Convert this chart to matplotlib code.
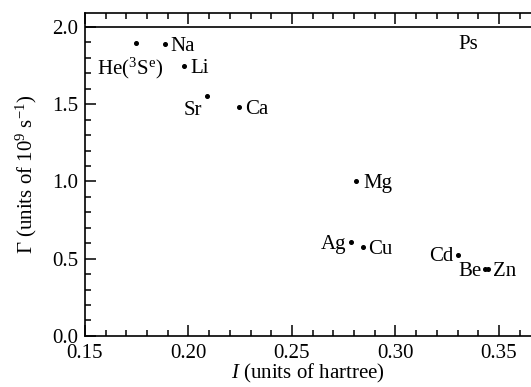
import matplotlib.pyplot as plt
from matplotlib.ticker import MultipleLocator

plt.rcParams['font.family'] = ['Liberation Serif', 'DejaVu Serif']
plt.rcParams['mathtext.fontset'] = 'custom'
plt.rcParams['mathtext.rm'] = 'Liberation Serif'
plt.rcParams['mathtext.it'] = 'Liberation Serif:italic'

# ionization energy (hartree) and annihilation rate (1e9 s^-1)
atoms = ["He($^3$S$^\\mathrm{e}$)", "Na", "Li", "Sr", "Ca", "Mg", "Ag", "Cu", "Cd", "Be", "Zn"]
ion_energy = [0.1746, 0.1886, 0.1978, 0.2090, 0.2244, 0.2809, 0.2785, 0.2843, 0.3302, 0.3432, 0.3449]
gamma = [1.896, 1.890, 1.748, 1.553, 1.482, 1.003, 0.608, 0.576, 0.524, 0.434, 0.434]
ps_gamma = 2.0
ps_label_x = 0.3353

# label offsets in points (dx, dy) and alignment
offsets = {
    "He($^3$S$^\\mathrm{e}$)": (-4, -16, 'center'),
    "Na": (4, 0, 'left'),
    "Li": (4.5, 0, 'left'),
    "Sr": (-3.5, -8.5, 'right'),
    "Ca": (4.5, 0, 'left'),
    "Mg": (5.5, 0, 'left'),
    "Ag": (-3, 0, 'right'),
    "Cu": (4, 0, 'left'),
    "Cd": (-3, 1, 'right'),
    "Be": (-2, 0, 'right'),
    "Zn": (3.5, 0, 'left'),
}

fig = plt.figure(figsize=(5.31, 3.87), dpi=100)
ax = fig.add_axes([0.160, 0.132, 0.840, 0.834])

ax.axhline(ps_gamma, color='black', lw=1.2)
ax.plot(ion_energy, gamma, 'o', color='black', ms=2.6, ls='none')
for name, x, y in zip(atoms, ion_energy, gamma):
    dx, dy, ha = offsets[name]
    ax.annotate(name, (x, y), xytext=(dx, dy), textcoords='offset points',
                ha=ha, va='center_baseline', fontsize=15)
ax.annotate("Ps", (ps_label_x, ps_gamma), xytext=(0, -11), textcoords='offset points',
            ha='center', va='center_baseline', fontsize=15)

ax.set_xlim(0.15, 0.3655)
ax.set_ylim(0.0, 2.09)
ax.xaxis.set_major_locator(MultipleLocator(0.05))
ax.xaxis.set_minor_locator(MultipleLocator(0.01))
ax.yaxis.set_major_locator(MultipleLocator(0.5))
ax.yaxis.set_minor_locator(MultipleLocator(0.1))
ax.xaxis.set_major_formatter(plt.FormatStrFormatter('%.2f'))
ax.yaxis.set_major_formatter(plt.FormatStrFormatter('%.1f'))
ax.tick_params(which='both', direction='in', top=True, right=False, labelsize=15, width=1.1)
ax.tick_params(axis='x', pad=6)
ax.tick_params(axis='y', pad=5)
ax.tick_params(which='major', length=8)
ax.tick_params(which='minor', length=4)
ax.spines['right'].set_visible(False)
for s in ['left', 'bottom', 'top']:
    ax.spines[s].set_linewidth(1.2)

ax.set_xlabel("$I$ (units of hartree)", fontsize=15, labelpad=-1)
ax.set_ylabel("Γ (units of 10$^{9}$ s$^{-1}$)", fontsize=15, labelpad=9)

fig.savefig("out.png", dpi=100)
